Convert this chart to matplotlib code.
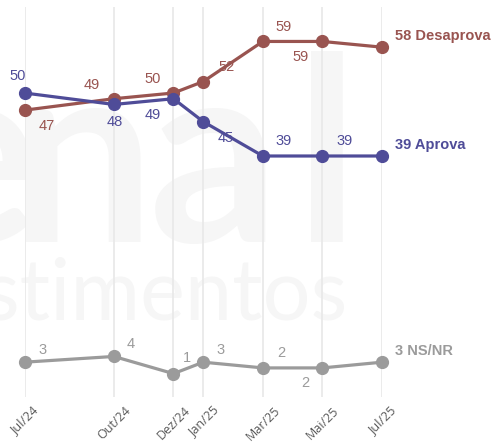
#!/usr/bin/env python3
"""
Aprovação do governo (Genial/Quaest) – recreation of the line chart.
"""

import matplotlib
matplotlib.use('Agg')
import matplotlib.pyplot as plt
from matplotlib import rcParams

rcParams.update({
    'font.family': ['Liberation Sans', 'DejaVu Sans'],
    'font.size': 10.5,
})

# ── Data ──────────────────────────────────────────────────────────────
months = ['Jul/24', 'Out/24', 'Dez/24', 'Jan/25', 'Mar/25', 'Mai/25', 'Jul/25']
month_pos = [0, 3, 5, 6, 8, 10, 12]   # months since Jul/24

aprova = [50, 48, 49, 45, 39, 39, 39]
desaprova = [47, 49, 50, 52, 59, 59, 58]
nsnr = [3, 4, 1, 3, 2, 2, 3]

# label offsets (pixels) for each point; None = no label (last point uses end label)
aprova_off = [(-7, 17), (1, -18), (-21, -16), (22, -16), (21, 15), (22, 15), None]
desaprova_off = [(22, -16), (-22, 14), (-21, 14), (23, 15), (21, 14), (-22, -16), None]
nsnr_off = [(18, 12), (17, 12), (13, 16), (17, 12), (18, 15), (-17, -15), None]

C_APROVA = '#4f4c98'
C_DESAPROVA = '#995450'
C_NS = '#9b9b9b'
C_GRID = '#e8e8e8'
C_WM = '#f6f6f6'

# ── Figure ────────────────────────────────────────────────────────────
W, H = 495, 444
fig = plt.figure(figsize=(W / 100, H / 100), dpi=100)

# axes: x 0..12 spans pixels 24.5..382, y mapping 50 -> 93px, 39 -> 156px
x0_px, x1_px = 24.5, 382
y_top_px, y_bot_px = 7, 397
ppu = (156 - 93) / 11
y_zero_px = 93 + 50 * ppu
ymin = (y_zero_px - y_bot_px) / ppu
ymax = (y_zero_px - y_top_px) / ppu

ax = fig.add_axes([x0_px / W, 1 - y_bot_px / H,
                   (x1_px - x0_px) / W, (y_bot_px - y_top_px) / H])
ax.patch.set_alpha(0)
ax.set_xlim(0, 12)
ax.set_ylim(ymin, ymax)
for s in ax.spines.values():
    s.set_visible(False)
ax.set_yticks([])
ax.set_xticks(month_pos)
ax.set_xticklabels(months, rotation=45, ha='center', va='top',
                   fontsize=9, color='#5a5a5a', family='Open Sans')
ax.tick_params(axis='x', length=0, pad=5)

# watermark (faint logo behind the chart)
for ch, cx in [('e', -30), ('n', 82), ('a', 214), ('l', 327)]:
    ax.text(cx / W, 1 - 242 / H, ch, transform=fig.transFigure,
            ha='center', va='baseline', fontsize=185, family='Lato',
            fontweight='bold', color=C_WM, zorder=0)
ax.text(347 / W, 1 - 320 / H, 'investimentos', transform=fig.transFigure,
        ha='right', va='baseline', fontsize=61, family='Lato',
        color=C_WM, zorder=0)

for m in month_pos:
    ax.axvline(m, color=C_GRID, lw=1.2, zorder=1)

series = [
    (desaprova, C_DESAPROVA, desaprova_off, 'Desaprova'),
    (aprova, C_APROVA, aprova_off, 'Aprova'),
    (nsnr, C_NS, nsnr_off, 'NS/NR'),
]

for vals, col, offs, name in series:
    ax.plot(month_pos, vals, color=col, lw=2.3, marker='o', ms=8.5,
            clip_on=False, zorder=3)
    for m, v, off in zip(month_pos, vals, offs):
        if off is None:
            continue
        ax.annotate(str(v), (m, v), xytext=off, textcoords='offset pixels',
                    ha='center', va='center', color=col, fontsize=10.5,
                    zorder=4)
    ax.annotate(f'{vals[-1]} {name}', (month_pos[-1], vals[-1]),
                xytext=(13, 11), textcoords='offset pixels',
                ha='left', va='center', color=col, fontsize=10.5,
                fontweight='bold', annotation_clip=False)

fig.savefig('out.png', dpi=100)
